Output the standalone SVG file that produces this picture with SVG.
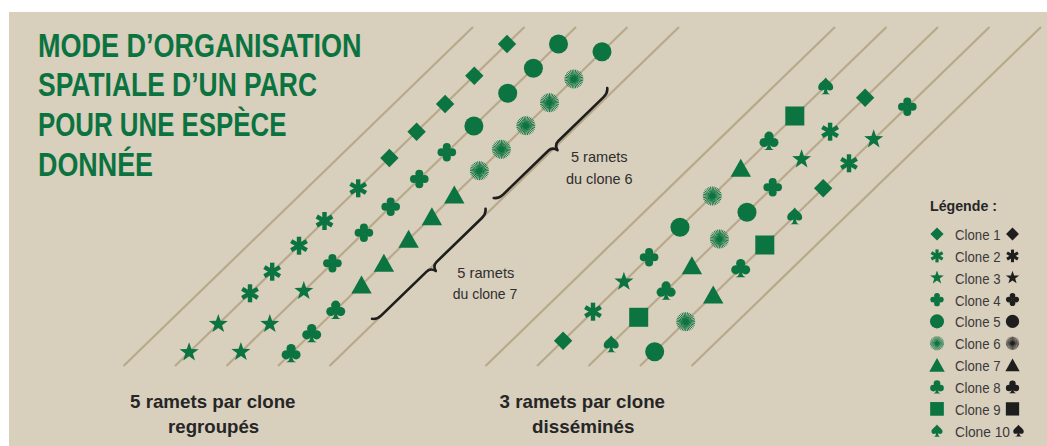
<svg xmlns="http://www.w3.org/2000/svg" width="1047" height="446" viewBox="0 0 1047 446">
<style>
.bg{fill:#d9cfbd}
.ln{stroke:#b8a98b;stroke-width:2.2;fill:none}
.g{color:#0b7440}
.k{color:#1e1e1e}
.title{font-family:"Liberation Sans",Arial,sans-serif;font-weight:bold;font-size:32.5px;fill:#0b7340}
.lab{font-family:"Liberation Sans",Arial,sans-serif;font-weight:bold;font-size:19px;fill:#262626;text-anchor:middle}
.note{font-family:"Liberation Sans",Arial,sans-serif;font-size:14.5px;fill:#2e2e2e;text-anchor:middle}
.leg{font-family:"Liberation Sans",Arial,sans-serif;font-size:15px;fill:#3a3a3a}
.legt{font-family:"Liberation Sans",Arial,sans-serif;font-weight:bold;font-size:15px;fill:#262626}
.brace{stroke:#1e1e1e;stroke-width:2.6;fill:none;stroke-linecap:round;stroke-linejoin:round}
</style>
<defs>
<g id="s-dia" fill="currentColor"><polygon points="0,-9.2 9.2,0 0,9.2 -9.2,0"/></g>
<g id="s-ast" fill="currentColor"><rect x="-2.2" y="-9" width="4.4" height="18"/><rect x="-2.2" y="-9" width="4.4" height="18" transform="rotate(60)"/><rect x="-2.2" y="-9" width="4.4" height="18" transform="rotate(120)"/></g>
<g id="s-star" fill="currentColor"><polygon points="0,-10 2.35,-3.24 9.51,-3.09 3.8,1.24 5.88,8.09 0,4 -5.88,8.09 -3.8,1.24 -9.51,-3.09 -2.35,-3.24"/></g>
<g id="s-c4" fill="currentColor"><circle cx="0" cy="-5.3" r="4"/><circle cx="5.3" cy="0" r="4"/><circle cx="0" cy="5.3" r="4"/><circle cx="-5.3" cy="0" r="4"/><circle r="2.3"/></g>
<g id="s-circ" fill="currentColor"><circle r="9.5"/></g>
<g id="s-sun"><path stroke="currentColor" stroke-width="0.95" fill="none" d="M9.5,0L-9.5,0M9.32,1.85L-9.32,-1.85M8.78,3.64L-8.78,-3.64M7.9,5.28L-7.9,-5.28M6.72,6.72L-6.72,-6.72M5.28,7.9L-5.28,-7.9M3.64,8.78L-3.64,-8.78M1.85,9.32L-1.85,-9.32M0,9.5L0,-9.5M-1.85,9.32L1.85,-9.32M-3.64,8.78L3.64,-8.78M-5.28,7.9L5.28,-7.9M-6.72,6.72L6.72,-6.72M-7.9,5.28L7.9,-5.28M-8.78,3.64L8.78,-3.64M-9.32,1.85L9.32,-1.85"/><circle r="2.6" fill="currentColor"/></g>
<g id="s-tri" fill="currentColor"><polygon points="0,-9.5 10.2,8.5 -10.2,8.5"/></g>
<g id="s-club" fill="currentColor"><circle cx="0" cy="-4.8" r="4.6"/><circle cx="-4.9" cy="1.5" r="4.6"/><circle cx="4.9" cy="1.5" r="4.6"/><circle cx="0" cy="-0.5" r="2.6"/><path d="M-1.2,0L-1.6,5.5Q-2.2,8.3 -5,9H5Q2.2,8.3 1.6,5.5L1.2,0Z"/></g>
<g id="s-sq" fill="currentColor"><rect x="-9.5" y="-9.5" width="19" height="19"/></g>
<g id="s-spade" fill="currentColor"><path d="M0,-8.5C1.5,-5.5 7.5,-3 7.5,1.2C7.5,4.2 4.5,5.6 1.3,3.6L2,6.5Q2.8,8 5,8.3H-5Q-2.8,8 -2,6.5L-1.3,3.6C-4.5,5.6 -7.5,4.2 -7.5,1.2C-7.5,-3 -1.5,-5.5 0,-8.5Z"/></g>
<path id="brace" d="M-79,-4Q-76,0 -70,0L-7,0Q-1.5,0 0,6Q1.5,0 7,0L70,0Q76,0 79,-4"/>
</defs>

<rect class="bg" x="9" y="12" width="1038" height="434"/>

<g id="title">
<text class="title" x="38" y="56.7" textLength="323.5" lengthAdjust="spacingAndGlyphs">MODE D’ORGANISATION</text>
<text class="title" x="38" y="95.5" textLength="279" lengthAdjust="spacingAndGlyphs">SPATIALE D’UN PARC</text>
<text class="title" x="38" y="135.5" textLength="248.5" lengthAdjust="spacingAndGlyphs">POUR UNE ESPÈCE</text>
<text class="title" x="38" y="176" textLength="115" lengthAdjust="spacingAndGlyphs">DONNÉE</text>
</g>

<g id="connectors">
<g id="rows-left">
<line class="ln" x1="123.5" y1="366" x2="473" y2="27"/>
<line class="ln" x1="175" y1="366" x2="524.5" y2="27"/>
<line class="ln" x1="226.5" y1="366" x2="576" y2="27"/>
<line class="ln" x1="278" y1="366" x2="627.5" y2="27"/>
<line class="ln" x1="329.5" y1="366" x2="679" y2="27"/>
</g>
<g id="rows-right">
<line class="ln" x1="485.5" y1="366" x2="835" y2="27"/>
<line class="ln" x1="537" y1="366" x2="886.5" y2="27"/>
<line class="ln" x1="588.5" y1="366" x2="938" y2="27"/>
<line class="ln" x1="640" y1="366" x2="989.5" y2="27"/>
<line class="ln" x1="691.5" y1="366" x2="1041" y2="27"/>
</g>
</g>

<g id="grouped" class="g">
<use href="#s-star" x="189.1" y="352.3"/>
<use href="#s-star" x="218.3" y="324"/>
<use href="#s-ast" x="250" y="293.3"/>
<use href="#s-ast" x="272.2" y="271.7"/>
<use href="#s-ast" x="299" y="245.7"/>
<use href="#s-ast" x="324.5" y="221"/>
<use href="#s-ast" x="358.2" y="188.3"/>
<use href="#s-dia" x="389.4" y="158"/>
<use href="#s-dia" x="416.6" y="131.7"/>
<use href="#s-dia" x="445.1" y="104"/>
<use href="#s-dia" x="474.3" y="75.7"/>
<use href="#s-dia" x="507" y="44"/>

<use href="#s-star" x="240.9" y="352"/>
<use href="#s-star" x="269.8" y="324"/>
<use href="#s-star" x="303.8" y="291"/>
<use href="#s-c4" x="332.4" y="263.3"/>
<use href="#s-c4" x="363.9" y="232.7"/>
<use href="#s-c4" x="390.7" y="206.7"/>
<use href="#s-c4" x="419.3" y="179"/>
<use href="#s-c4" x="446.8" y="152.3"/>
<use href="#s-circ" x="473.9" y="126"/>
<use href="#s-circ" x="507.7" y="93.3"/>
<use href="#s-circ" x="533.4" y="68.3"/>
<use href="#s-circ" x="558.5" y="44"/>

<use href="#s-club" x="291.1" y="353.3"/>
<use href="#s-club" x="311.7" y="333.3"/>
<use href="#s-club" x="335.7" y="310"/>
<use href="#s-tri" x="361.5" y="285"/>
<use href="#s-tri" x="383.9" y="263.3"/>
<use href="#s-tri" x="408.6" y="239.3"/>
<use href="#s-tri" x="431.9" y="216.7"/>
<use href="#s-tri" x="454.3" y="195"/>
<use href="#s-sun" x="479.4" y="170.7"/>
<use href="#s-sun" x="501.4" y="149.3"/>
<use href="#s-sun" x="525.8" y="125.7"/>
<use href="#s-sun" x="549.5" y="102.7"/>
<use href="#s-sun" x="573.9" y="79"/>
<use href="#s-circ" x="602" y="51.7"/>
</g>

<g id="brace-clone6">
<use href="#brace" class="brace" transform="translate(553.3,145.9) rotate(-44.1)"/>
<text class="note" x="599.3" y="161.7" textLength="56.7" lengthAdjust="spacingAndGlyphs">5 ramets</text>
<text class="note" x="599.3" y="184" textLength="66.7" lengthAdjust="spacingAndGlyphs">du clone 6</text>
</g>
<g id="brace-clone7">
<use href="#brace" class="brace" transform="translate(431.6,266.7) rotate(-44.1)"/>
<text class="note" x="485.8" y="277.7" textLength="57" lengthAdjust="spacingAndGlyphs">5 ramets</text>
<text class="note" x="485" y="299.3" textLength="64.6" lengthAdjust="spacingAndGlyphs">du clone 7</text>
</g>

<g id="scattered" class="g">
<use href="#s-dia" x="563.1" y="340.7"/>
<use href="#s-ast" x="593" y="311.7"/>
<use href="#s-star" x="623.9" y="281.7"/>
<use href="#s-c4" x="649.1" y="257.3"/>
<use href="#s-circ" x="680" y="227.3"/>
<use href="#s-sun" x="712.3" y="196"/>
<use href="#s-tri" x="740.8" y="168.3"/>
<use href="#s-club" x="769" y="141"/>
<use href="#s-sq" x="794.8" y="116"/>
<use href="#s-spade" x="825.7" y="86"/>

<use href="#s-spade" x="611.2" y="344"/>
<use href="#s-sq" x="638.7" y="317.3"/>
<use href="#s-club" x="666.1" y="290.7"/>
<use href="#s-tri" x="691.9" y="265.7"/>
<use href="#s-sun" x="719.4" y="239"/>
<use href="#s-circ" x="747" y="212.3"/>
<use href="#s-c4" x="772.7" y="187.3"/>
<use href="#s-star" x="801.6" y="159.3"/>
<use href="#s-ast" x="830.1" y="131.7"/>
<use href="#s-dia" x="865.1" y="97.7"/>

<use href="#s-circ" x="654.7" y="351.7"/>
<use href="#s-sun" x="685.7" y="321.7"/>
<use href="#s-tri" x="713.2" y="295"/>
<use href="#s-club" x="740.7" y="268.3"/>
<use href="#s-sq" x="764.8" y="245"/>
<use href="#s-spade" x="794.7" y="216"/>
<use href="#s-dia" x="823.2" y="188.3"/>
<use href="#s-ast" x="849" y="163.3"/>
<use href="#s-star" x="873.7" y="139.3"/>
<use href="#s-c4" x="907.3" y="106.7"/>
</g>

<g id="labels">
<text class="lab" x="212.8" y="408.3" textLength="165.5" lengthAdjust="spacingAndGlyphs">5 ramets par clone</text>
<text class="lab" x="213.6" y="433.3" textLength="91" lengthAdjust="spacingAndGlyphs">regroupés</text>
<text class="lab" x="582.3" y="408.3" textLength="165.4" lengthAdjust="spacingAndGlyphs">3 ramets par clone</text>
<text class="lab" x="583.3" y="433.3" textLength="102.5" lengthAdjust="spacingAndGlyphs">disséminés</text>
</g>

<g id="legend">
<text class="legt" x="930" y="210.7" textLength="67" lengthAdjust="spacingAndGlyphs">Légende :</text>
<g class="g">
<use href="#s-dia" transform="translate(937,234) scale(.72)"/>
<use href="#s-ast" transform="translate(937,255.9) scale(.72)"/>
<use href="#s-star" transform="translate(937,277.7) scale(.72)"/>
<use href="#s-c4" transform="translate(937,299.6) scale(.72)"/>
<use href="#s-circ" transform="translate(937,321.4) scale(.74)"/>
<use href="#s-sun" transform="translate(937,343.3) scale(.74)"/>
<use href="#s-tri" transform="translate(937,365.2) scale(.76)"/>
<use href="#s-club" transform="translate(937,387) scale(.72)"/>
<use href="#s-sq" transform="translate(937,408.9) scale(.72)"/>
<use href="#s-spade" transform="translate(937,430.7) scale(.74)"/>
</g>
<text class="leg" x="955" y="240" textLength="45.5" lengthAdjust="spacingAndGlyphs">Clone 1</text>
<text class="leg" x="955" y="261.9" textLength="45.5" lengthAdjust="spacingAndGlyphs">Clone 2</text>
<text class="leg" x="955" y="283.7" textLength="45.5" lengthAdjust="spacingAndGlyphs">Clone 3</text>
<text class="leg" x="955" y="305.6" textLength="45.5" lengthAdjust="spacingAndGlyphs">Clone 4</text>
<text class="leg" x="955" y="327.4" textLength="45.5" lengthAdjust="spacingAndGlyphs">Clone 5</text>
<text class="leg" x="955" y="349.3" textLength="45.5" lengthAdjust="spacingAndGlyphs">Clone 6</text>
<text class="leg" x="955" y="371.2" textLength="45.5" lengthAdjust="spacingAndGlyphs">Clone 7</text>
<text class="leg" x="955" y="393" textLength="45.5" lengthAdjust="spacingAndGlyphs">Clone 8</text>
<text class="leg" x="955" y="414.9" textLength="45.5" lengthAdjust="spacingAndGlyphs">Clone 9</text>
<text class="leg" x="955" y="436.7" textLength="55" lengthAdjust="spacingAndGlyphs">Clone 10</text>
<g class="k">
<use href="#s-dia" transform="translate(1012.5,234) scale(.7)"/>
<use href="#s-ast" transform="translate(1012.5,255.9) scale(.7)"/>
<use href="#s-star" transform="translate(1012.5,277.7) scale(.7)"/>
<use href="#s-c4" transform="translate(1012.5,299.6) scale(.7)"/>
<use href="#s-circ" transform="translate(1012.5,321.4) scale(.7)"/>
<use href="#s-sun" transform="translate(1012.5,343.3) scale(.7)"/>
<use href="#s-tri" transform="translate(1012.5,365.2) scale(.7)"/>
<use href="#s-club" transform="translate(1012.5,387) scale(.7)"/>
<use href="#s-sq" transform="translate(1012.5,408.9) scale(.7)"/>
<use href="#s-spade" transform="translate(1018.5,430.7) scale(.7)"/>
</g>
</g>
</svg>
